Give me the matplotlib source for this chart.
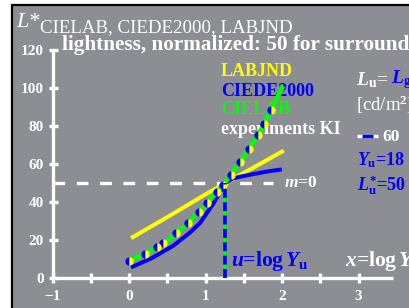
import matplotlib
matplotlib.use("Agg")
import matplotlib.pyplot as plt
from matplotlib.patches import Rectangle
import numpy as np

plt.rcParams['font.family'] = ['Liberation Serif', 'DejaVu Serif']
plt.rcParams['mathtext.fontset'] = 'custom'
plt.rcParams['mathtext.rm'] = 'Liberation Serif:bold'
plt.rcParams['mathtext.it'] = 'Liberation Serif:italic:bold'
plt.rcParams['mathtext.bf'] = 'Liberation Serif:bold'

# ---- data ----
x_ticks = [-1, -0.5, 0, 0.5, 1, 1.5, 2, 2.5, 3]
x_labels = ["\u22121", "0", "1", "2", "3"]
x_label_pos = [-1, 0, 1, 2, 3]
y_ticks = [0, 20, 40, 60, 80, 100, 120]

labjnd_x = [0.05, 0.5, 1.0, 1.26, 1.6, 2.0]
labjnd_y = [21.5, 32.0, 44.0, 50.0, 57.5, 66.5]

ciede_x = [0.05, 0.3, 0.58, 0.8, 0.93, 1.1, 1.2, 1.26, 1.36, 1.6, 1.8, 1.97]
ciede_y = [6.0, 10.5, 17.0, 24.0, 29.0, 39.0, 46.0, 50.0, 52.5, 54.5, 56.0, 57.0]

cielab_x = [0.0, 0.25, 0.5, 0.75, 1.0, 1.25, 1.5, 1.75, 2.0]
cielab_y = [9.0, 13.5, 19.5, 28.0, 38.5, 50.0, 63.5, 79.5, 100.0]

exp_x = [0.0, 0.21, 0.36, 0.45, 0.62, 0.77, 0.91, 1.02, 1.15, 1.23, 1.33,
         1.45, 1.57, 1.68, 1.77, 1.86]

u_pos = 1.26
ref_level = 50

# ---- geometry (pixels) ----
W, H = 409, 308
X0, SX = 129.0, 76.5
Y0, SY = 278.0, 1.9

def dx(p):
    return (p - X0) / SX

def dy(p):
    return (Y0 - p) / SY

fig = plt.figure(figsize=(W / 100, H / 100), dpi=100)
fig.patch.set_facecolor('white')
ax = fig.add_axes([0, 0, 1, 1])
ax.set_xlim(dx(0), dx(W))
ax.set_ylim(dy(H), dy(0))
ax.axis('off')

# background panel with black border
ax.add_patch(Rectangle((12 / W, -0.01), 1.1, (H - 5) / H + 0.01,
                       transform=fig.transFigure, facecolor='#8d8e93',
                       edgecolor='black', linewidth=1.6, zorder=0,
                       clip_on=False))

white = 'white'
# axes lines
ax.plot([-1, -1], [0, 120], color=white, lw=2.4, solid_capstyle='butt', zorder=3)
ax.plot([-1, dx(393)], [0, 0], color=white, lw=2.4, solid_capstyle='butt', zorder=3)
for t in y_ticks:
    ax.plot([-1 - 4 / SX, -1 + 5 / SX], [t, t], color=white, lw=2.4,
            solid_capstyle='butt', zorder=3)
for t in x_ticks:
    ax.plot([t, t], [-5 / SY, 5 / SY], color=white, lw=2.4,
            solid_capstyle='butt', zorder=3)
for t, lab in zip(x_label_pos, x_labels):
    ax.text(t, dy(297), lab, color=white, fontsize=11, fontweight='bold',
            ha='center', va='center')
for t in y_ticks:
    ax.text(dx(44), t - 1.0, str(t), color=white, fontsize=11, fontweight='bold',
            ha='right', va='center')

# reference dashed line
ax.plot([-1, dx(273)], [ref_level, ref_level], color=white, lw=2.4,
        dashes=(3.5, 3.5), zorder=3)
ax.text(dx(284), ref_level, r'$m$=0', color=white, fontsize=12.5,
        fontweight='bold', ha='left', va='center')

# curves
ax.plot(labjnd_x, labjnd_y, color='#ffff00', lw=2.9, zorder=4)
ax.plot(ciede_x, ciede_y, color='#0000ff', lw=2.9, zorder=4)
ax.plot(cielab_x, cielab_y, color='#00ff00', lw=3.4, zorder=5)

exp_y = np.interp(exp_x, cielab_x, cielab_y)
ax.plot(exp_x, exp_y, linestyle='none', marker='o', markersize=6.0,
        fillstyle='left', markerfacecolor='#0000ff',
        markerfacecoloralt='#ffff00', markeredgewidth=0, zorder=6)

# vertical u line
ax.plot([u_pos, u_pos], [0, ref_level], color='#00ff00', lw=2.6, zorder=5,
        solid_capstyle='butt')
ax.plot([u_pos, u_pos], [0, ref_level], color='#0000ff', lw=2.6,
        dashes=(2.5, 1.2), zorder=6)

# legend texts
leg_x = dx(221)
ax.text(leg_x, dy(72), 'LABJND', color='#ffff00', fontsize=13,
        fontweight='bold', ha='left', va='center')
ax.text(leg_x, dy(91), 'CIEDE2000', color='#0000ff', fontsize=13,
        fontweight='bold', ha='left', va='center')
ax.text(leg_x, dy(110), 'CIELAB', color='#00ff00', fontsize=13,
        fontweight='bold', ha='left', va='center', zorder=4)
ax.text(leg_x, dy(129), 'experiments KI', color=white, fontsize=13,
        fontweight='bold', ha='left', va='center', zorder=4)

# titles
ax.text(dx(16), dy(27), 'L*', color=white, fontsize=16, style='italic',
        ha='left', va='baseline')
ax.text(dx(40), dy(32), 'CIELAB, CIEDE2000, LABJND', color=white,
        fontsize=13.6, ha='left', va='baseline')
ax.text(dx(62), dy(50), 'lightness, normalized: 50 for surround', color=white,
        fontsize=15.3, fontweight='bold', ha='left', va='baseline')

# right side annotations
ax.text(dx(356), dy(80), r'$L$$_{\rm u}$=', color=white, fontsize=14,
        ha='left', va='center')
ax.text(dx(391), dy(80), r'$L_{\rm g}$', color='#0000ff', fontsize=14,
        ha='left', va='center')
ax.text(dx(356), dy(105), '[cd/m$^{\\rm 2}$]', color=white, fontsize=13.5,
        ha='left', va='center')
ax.plot([dx(357), dx(378)], [dy(136), dy(136)], color=white, lw=2.4,
        solid_capstyle='butt', zorder=4)
ax.plot([dx(362), dx(373)], [dy(136), dy(136)], color='#0000ff', lw=2.4,
        solid_capstyle='butt', zorder=5)
ax.text(dx(382), dy(137), '60', color=white, fontsize=12.5, fontweight='bold',
        ha='left', va='center')
ax.text(dx(357), dy(160), r'$Y_{\rm u}$=18', color='#0000ff', fontsize=13,
        fontweight='bold', ha='left', va='center')
ax.text(dx(357), dy(185), r'$L^{*}_{\rm u}$=50', color='#0000ff', fontsize=13,
        fontweight='bold', ha='left', va='center')

ax.text(dx(231), dy(261), r'$u$=log$\,Y_{\rm u}$', color='#0000ff',
        fontsize=15.5, fontweight='bold', ha='left', va='center')
ax.text(dx(345), dy(261), r'$x$=log$\,Y$', color=white,
        fontsize=15.5, fontweight='bold', ha='left', va='center')

fig.savefig('out.png', dpi=100, facecolor=fig.get_facecolor())
